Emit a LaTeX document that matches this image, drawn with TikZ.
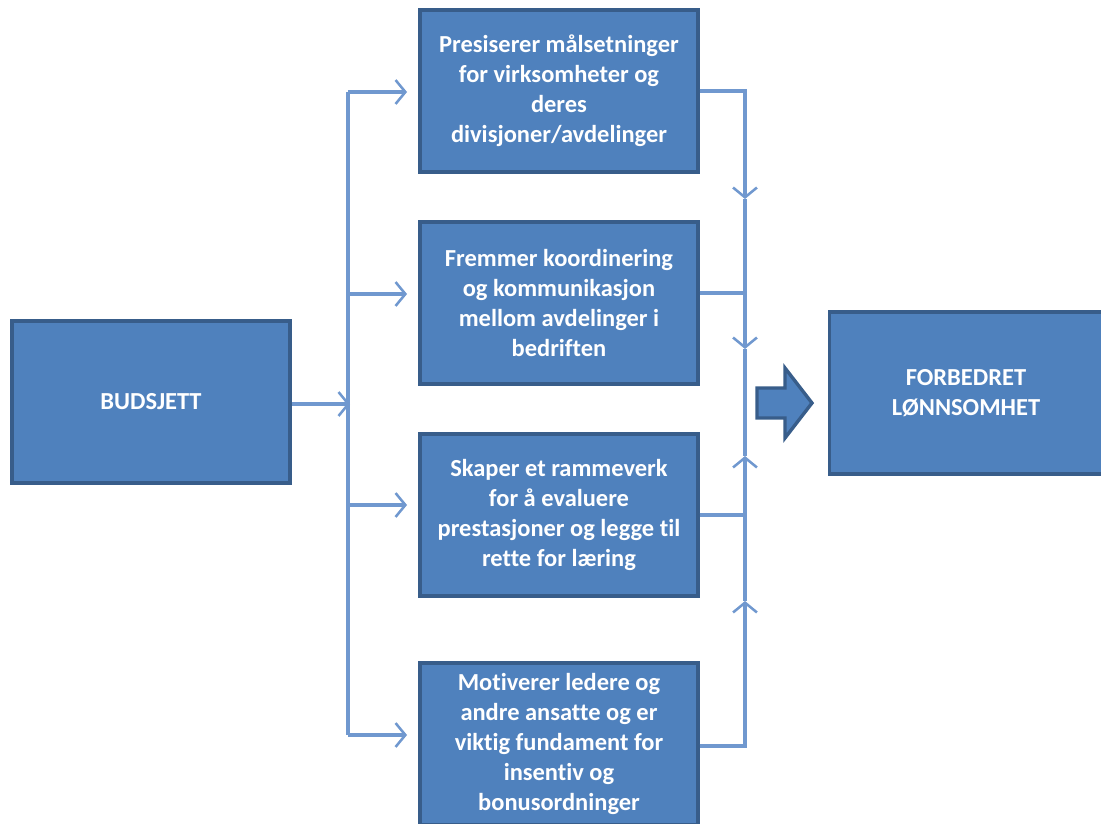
\documentclass[tikz,border=0pt]{standalone}
\usepackage{fontspec}
\setmainfont{Carlito}[Ligatures=NoCommon]
\usepackage{tikz}
\usetikzlibrary{positioning, arrows.meta}
\definecolor{boxfill}{HTML}{4F81BD}
\definecolor{boxline}{HTML}{385D8A}
\definecolor{linkblue}{HTML}{7098CF}
\tikzstyle{link} = [draw=linkblue, line width=2.2pt]
\tikzstyle{arrow} = [link, -{Straight Barb[length=7pt, width=17pt, line width=1.8pt]}]

\begin{document}
\begin{tikzpicture}[x=0.025cm, y=-0.025cm,
bluebox/.style={rectangle, fill=boxfill, draw=boxline, line width=2.4pt, text=white, font=\bfseries\fontsize{17.4}{21.3}\selectfont, align=center, minimum width=6.95cm, minimum height=4.05cm, inner sep=0pt},
bigbox/.style={bluebox, minimum width=6.82cm}
]
\useasboundingbox (0,0) rectangle (1101,824);
\node[bluebox] (B) at (151,402) {BUDSJETT};
\node[bluebox] (A1) at (559,91) {Presiserer målsetninger\\for virksomheter og\\deres\\divisjoner/avdelinger};
\node[bluebox] (A2) at (559,303) {Fremmer koordinering\\og kommunikasjon\\mellom avdelinger i\\bedriften};
\node[bluebox] (A3) at (559,515) {Skaper et rammeverk\\for å evaluere\\prestasjoner og legge til\\rette for læring};
\node[bluebox] (A4) at (559,744) {Motiverer ledere og\\andre ansatte og er\\viktig fundament for\\insentiv og\\bonusordninger};
\node[bigbox] (R) at (966,393) {FORBEDRET\\LØNNSOMHET};

% left split
\coordinate (L1) at (348,92);
\coordinate (L2) at (348,294);
\coordinate (L3) at (348,505);
\coordinate (L4) at (348,735);
\coordinate (LB) at (350,404);
\draw[link] (L1) -- (L4);
\draw[arrow] (B.east |- LB) -- (LB);
\draw[arrow, shorten >=8pt] (L1) -- (L1 -| A1.west);
\draw[arrow, shorten >=8pt] (L2) -- (L2 -| A2.west);
\draw[arrow, shorten >=8pt] (L3) -- (L3 -| A3.west);
\draw[arrow, shorten >=8pt] (L4) -- (L4 -| A4.west);

% right join
\coordinate (R1) at (745,91);
\coordinate (R2) at (745,293);
\coordinate (R3) at (745,515);
\coordinate (R4) at (745,746);
\coordinate (M1) at (745,199);
\coordinate (M2) at (745,349);
\coordinate (M3) at (745,456);
\coordinate (M4) at (745,601);
\draw[arrow] (A1.east |- R1) -- (R1) -- (M1);
\draw[arrow] (M1) -- (M2);
\draw[link] (A2.east |- R2) -- (R2);
\draw[link] (M2) -- (M3);
\draw[arrow] (A4.east |- R4) -- (R4) -- (M4);
\draw[arrow] (M4) -- (M3);
\draw[link] (A3.east |- R3) -- (R3);

% block arrow
\draw[fill=boxfill, draw=boxline, line width=2.4pt]
  (757,388) -- (785,388) -- (785,368) -- (812,403) -- (785,438) -- (785,418) -- (757,418) -- cycle;
\end{tikzpicture}
\end{document}
